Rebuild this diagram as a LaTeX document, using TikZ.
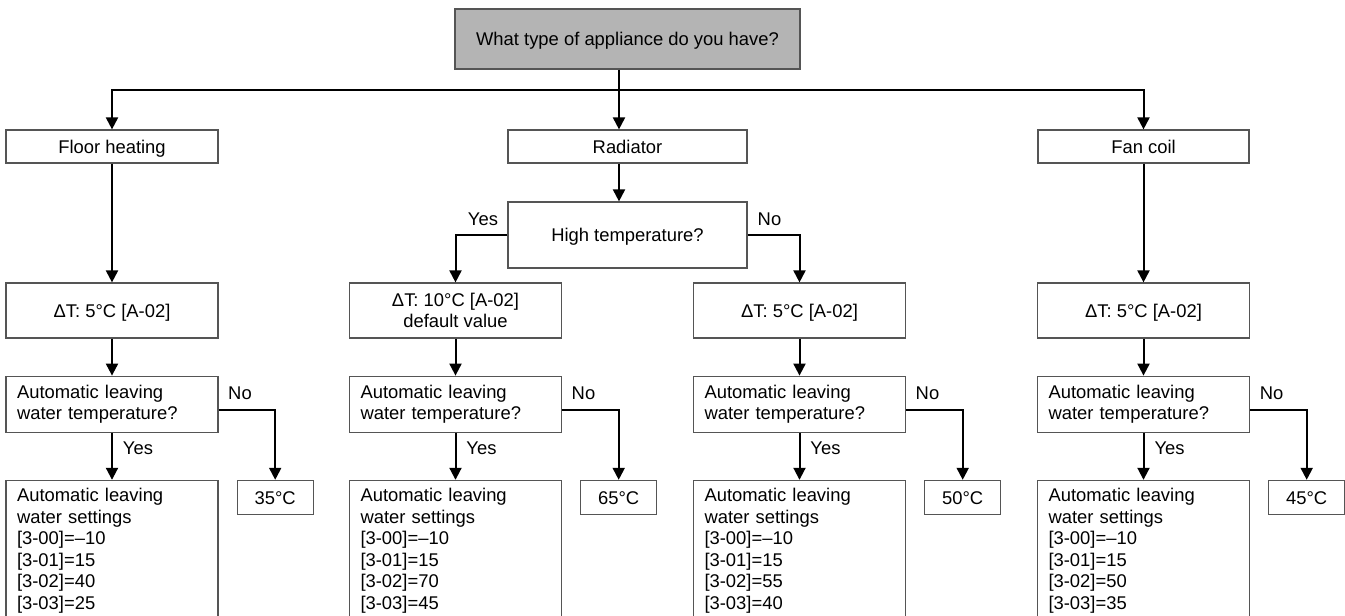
\documentclass[tikz,border=0pt]{standalone}
\usepackage{fontspec}
\setmainfont{Liberation Sans}
\usepackage{xcolor}
\definecolor{askgray}{RGB}{180, 180, 180}
\definecolor{edgegray}{RGB}{85, 85, 85}
\usetikzlibrary{arrows.meta, positioning}

\begin{document}
\begin{tikzpicture}[x=1pt, y=-1pt,
        box/.style={rectangle, draw=edgegray, line width=1.2pt, fill=white, inner sep=0pt, font=\fontsize{18.4}{21.5}\selectfont},
        oneline/.style={text height=13.2pt, text depth=0pt},
        head/.style={box, minimum width=212pt, minimum height=33pt},
        question/.style={box, minimum width=212pt, minimum height=56pt, text width=190pt, inner xsep=11pt, align=left},
        settings/.style={box, text width=190pt, inner xsep=11pt, inner ysep=8pt, align=left},
        temp/.style={box, oneline, minimum width=76pt, minimum height=34pt},
        lbl/.style={inner sep=0pt, font=\fontsize{18.4}{21.5}\selectfont},
        link/.style={draw=black, line width=2pt},
        line/.style={link, -{Triangle[width=12pt, length=12pt]}}]

        \useasboundingbox (0,0) rectangle (1345,616);

        \node [box, oneline, fill=askgray, minimum width=345pt, minimum height=60pt] (appliance) at (627.5,39) {What type of appliance do you have?};

        \node [head, oneline] (floor) at (112,146.5) {Floor heating};
        \node [head, oneline, minimum width=239pt] (radiator) at (627.5,146.5) {Radiator};
        \node [head, oneline, minimum width=211pt] (fancoil) at (1143.5,146.5) {Fan coil};

        \node [head, oneline, minimum width=239pt, minimum height=66pt] (hightemp) at (627.5,235) {High temperature?};

        \node [head, oneline, minimum height=55pt] (dt1) at (112,310.5) {ΔT: 5°C [A-02]};
        \node [head, minimum height=55pt, align=center] (dt2) at (455.5,310.5) {ΔT: 10°C [A-02]\\default value};
        \node [head, oneline, minimum height=55pt] (dt3) at (799.5,310.5) {ΔT: 5°C [A-02]};
        \node [head, oneline, minimum height=55pt] (dt4) at (1143.5,310.5) {ΔT: 5°C [A-02]};

        \node [question, below=37pt of dt1] (auto1) {Automatic leaving\\water temperature?};
        \node [question, below=37pt of dt2] (auto2) {Automatic leaving\\water temperature?};
        \node [question, below=37pt of dt3] (auto3) {Automatic leaving\\water temperature?};
        \node [question, below=37pt of dt4] (auto4) {Automatic leaving\\water temperature?};

        \node [settings, below=47pt of auto1] (set1) {Automatic leaving\\water settings\\{[3-00]}=--10\\{[3-01]}=15\\{[3-02]}=40\\{[3-03]}=25};
        \node [settings, below=47pt of auto2] (set2) {Automatic leaving\\water settings\\{[3-00]}=--10\\{[3-01]}=15\\{[3-02]}=70\\{[3-03]}=45};
        \node [settings, below=47pt of auto3] (set3) {Automatic leaving\\water settings\\{[3-00]}=--10\\{[3-01]}=15\\{[3-02]}=55\\{[3-03]}=40};
        \node [settings, below=47pt of auto4] (set4) {Automatic leaving\\water settings\\{[3-00]}=--10\\{[3-01]}=15\\{[3-02]}=50\\{[3-03]}=35};

        \node [temp, right=18pt of set1.north east, anchor=north west] (temp1) {35°C};
        \node [temp, right=18pt of set2.north east, anchor=north west] (temp2) {65°C};
        \node [temp, right=18pt of set3.north east, anchor=north west] (temp3) {50°C};
        \node [temp, right=18pt of set4.north east, anchor=north west] (temp4) {45°C};

        % branch labels
        \node [lbl] (yes0) at (483,219) {Yes};
        \node [lbl] (no0) at (769.5,219) {No};
        \node [lbl] (yes1) at (138,448) {Yes};
        \node [lbl] (no1) at (240,393) {No};
        \node [lbl] (yes2) at (481.5,448) {Yes};
        \node [lbl] (no2) at (583.5,393) {No};
        \node [lbl] (yes3) at (825.5,448) {Yes};
        \node [lbl] (no3) at (927.5,393) {No};
        \node [lbl] (yes4) at (1169.5,448) {Yes};
        \node [lbl] (no4) at (1271.5,393) {No};

        \coordinate (split) at (619,90);

        \path [link] (appliance.south -| split) -- (split);
        \path [line] (split) -| (floor);
        \path [line] (split) -| (fancoil);
        \path [line] (split) -- (split |- radiator.north);
        \path [line] (radiator.south -| split) -- (hightemp.north -| split);
        \path [line] (hightemp.west) -| (dt2);
        \path [line] (hightemp.east) -| (dt3);

        \path [line] (floor) -- (dt1);
        \path [line] (fancoil) -- (dt4);

        \path [line] (dt1) -- (auto1);
        \path [line] (dt2) -- (auto2);
        \path [line] (dt3) -- (auto3);
        \path [line] (dt4) -- (auto4);

        \path [line] (auto1) -- (set1);
        \path [line] (auto2) -- (set2);
        \path [line] (auto3) -- (set3);
        \path [line] (auto4) -- (set4);

        \path [line] ([yshift=-6pt]auto1.east) -| (temp1);
        \path [line] ([yshift=-6pt]auto2.east) -| (temp2);
        \path [line] ([yshift=-6pt]auto3.east) -| (temp3);
        \path [line] ([yshift=-6pt]auto4.east) -| (temp4);
    \end{tikzpicture}
\end{document}
